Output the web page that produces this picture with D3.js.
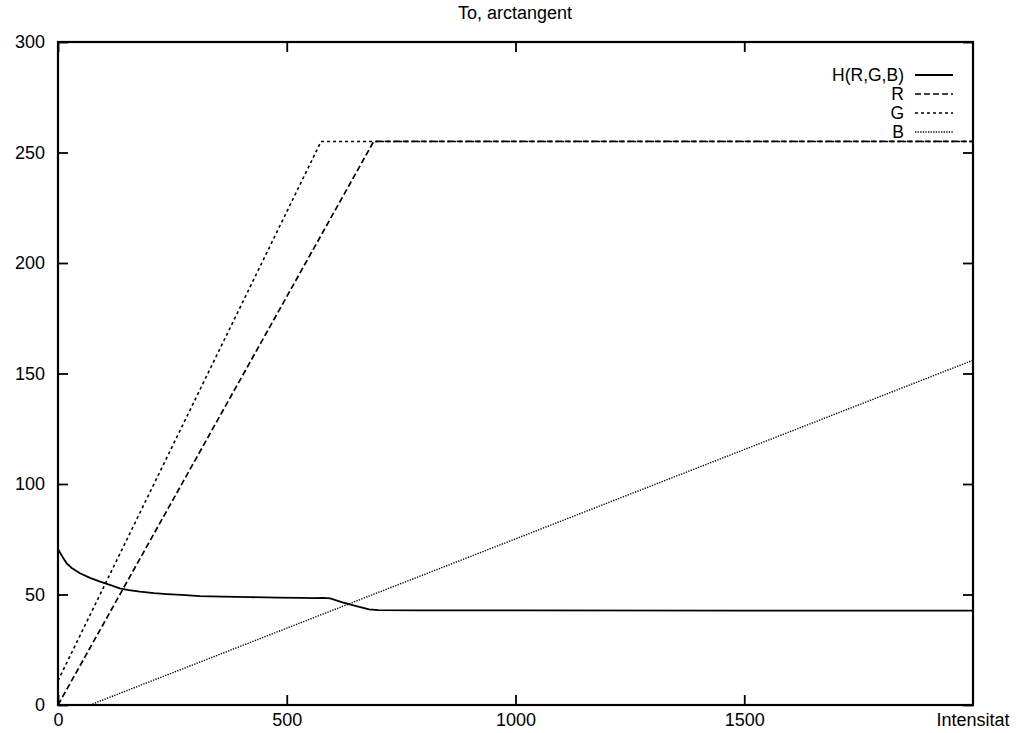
<!DOCTYPE html>
<html>
<head>
<meta charset="utf-8">
<script src="https://cdn.jsdelivr.net/npm/d3@7"></script>
<style>
  html, body { margin: 0; padding: 0; background: #fff; }
  svg { display: block; font-family: "Liberation Sans", Arial, Helvetica, sans-serif; }
</style>
</head>
<body>
<svg id="chart" width="1020" height="733"></svg>
<script>
// ---- data ----
const titleText = "To, arctangent";
const xLabel = "Intensitat";
const xTicks = [0, 500, 1000, 1500];
const yTicks = [0, 50, 100, 150, 200, 250, 300];

const hX = [0, 10, 19, 30, 48, 70, 92, 115, 135, 155, 179, 210, 238, 270, 310, 360, 420, 480, 530, 560, 580, 595, 620, 650, 680, 700, 800, 1000, 1500, 2000];
const hY = [70.6, 67.0, 64.1, 62.0, 59.6, 57.5, 55.8, 54.2, 52.8, 52.0, 51.3, 50.6, 50.2, 49.8, 49.3, 49.0, 48.8, 48.6, 48.5, 48.4, 48.5, 48.2, 46.6, 44.9, 43.3, 42.9, 42.8, 42.8, 42.7, 42.7];

const rX = [0, 690, 2000];
const rY = [0, 255, 255];

const gX = [0, 575, 2000];
const gY = [11, 255, 255];

const bX = [70, 2000];
const bY = [0, 156];

const seriesNames = ["H(R,G,B)", "R", "G", "B"];

// ---- layout ----
const mLeft = 58, mRight = 973, mTop = 42, mBottom = 705;
const fontPx = 18;
const svg = d3.select("#chart");

const x = d3.scaleLinear().domain([0, 2000]).range([mLeft, mRight]);
const y = d3.scaleLinear().domain([0, 300]).range([mBottom, mTop]);

const styles = [
  { dash: null, width: 1.8 },
  { dash: "6,3", width: 1.7 },
  { dash: "3,3", width: 1.6 },
  { dash: "1.3,1.3", width: 1.4 }
];

const series = [
  hX.map((v, i) => [v, hY[i]]),
  rX.map((v, i) => [v, rY[i]]),
  gX.map((v, i) => [v, gY[i]]),
  bX.map((v, i) => [v, bY[i]])
];

svg.append("defs").append("clipPath").attr("id", "clip")
  .append("rect").attr("x", mLeft).attr("y", mTop).attr("width", mRight - mLeft).attr("height", mBottom - mTop);

const line = d3.line().x(d => x(d[0])).y(d => y(d[1]));

const g = svg.append("g").attr("clip-path", "url(#clip)");
series.forEach((s, i) => {
  g.append("path")
    .attr("d", line(s))
    .attr("fill", "none")
    .attr("stroke", "#000")
    .attr("stroke-width", styles[i].width)
    .attr("stroke-dasharray", styles[i].dash);
});

// ---- axes (gnuplot style: inward ticks, mirrored) ----
const tickLen = 10;
const xPad = 8;
const axB = d3.axisBottom(x).tickValues(xTicks).tickSizeInner(-tickLen).tickSizeOuter(0).tickPadding(xPad).tickFormat(d3.format("d"));
const axT = d3.axisTop(x).tickValues(xTicks).tickSizeInner(-tickLen).tickSizeOuter(0).tickFormat("");
const axL = d3.axisLeft(y).tickValues(yTicks).tickSizeInner(-tickLen).tickSizeOuter(0).tickPadding(13).tickFormat(d3.format("d"));
const axR = d3.axisRight(y).tickValues(yTicks).tickSizeInner(-tickLen).tickSizeOuter(0).tickFormat("");

function styleAxis(sel) {
  sel.select(".domain").remove();
  sel.selectAll(".tick line").attr("stroke", "#000").attr("stroke-width", 1.8);
  sel.selectAll(".tick text").attr("fill", "#000").attr("font-size", fontPx);
}
svg.append("g").attr("transform", `translate(0,${mBottom})`).call(axB).call(styleAxis);
svg.append("g").attr("transform", `translate(0,${mTop})`).call(axT).call(styleAxis);
svg.append("g").attr("transform", `translate(${mLeft},0)`).call(axL).call(styleAxis);
svg.append("g").attr("transform", `translate(${mRight},0)`).call(axR).call(styleAxis);

svg.append("rect")
  .attr("x", mLeft).attr("y", mTop).attr("width", mRight - mLeft).attr("height", mBottom - mTop)
  .attr("fill", "none").attr("stroke", "#000").attr("stroke-width", 2.2);

// x axis name at the 2000 position
svg.append("text")
  .attr("x", x(2000)).attr("y", mBottom + xPad).attr("dy", "0.71em")
  .attr("text-anchor", "middle").attr("font-size", fontPx).attr("fill", "#000")
  .text(xLabel);

// title
svg.append("text")
  .attr("x", 515).attr("y", 19)
  .attr("text-anchor", "middle").attr("font-size", fontPx).attr("fill", "#000")
  .text(titleText);

// legend
const legTextX = 904, legLineX1 = 915, legLineX2 = 953, legY0 = 75, legDy = 19;
seriesNames.forEach((name, i) => {
  const yy = legY0 + i * legDy;
  svg.append("text")
    .attr("x", legTextX).attr("y", yy).attr("dy", "0.35em")
    .attr("text-anchor", "end").attr("font-size", 17.5).attr("fill", "#000")
    .text(name);
  svg.append("line")
    .attr("x1", legLineX1).attr("x2", legLineX2).attr("y1", yy).attr("y2", yy)
    .attr("stroke", "#000").attr("stroke-width", styles[i].width)
    .attr("stroke-dasharray", styles[i].dash);
});
</script>
</body>
</html>
